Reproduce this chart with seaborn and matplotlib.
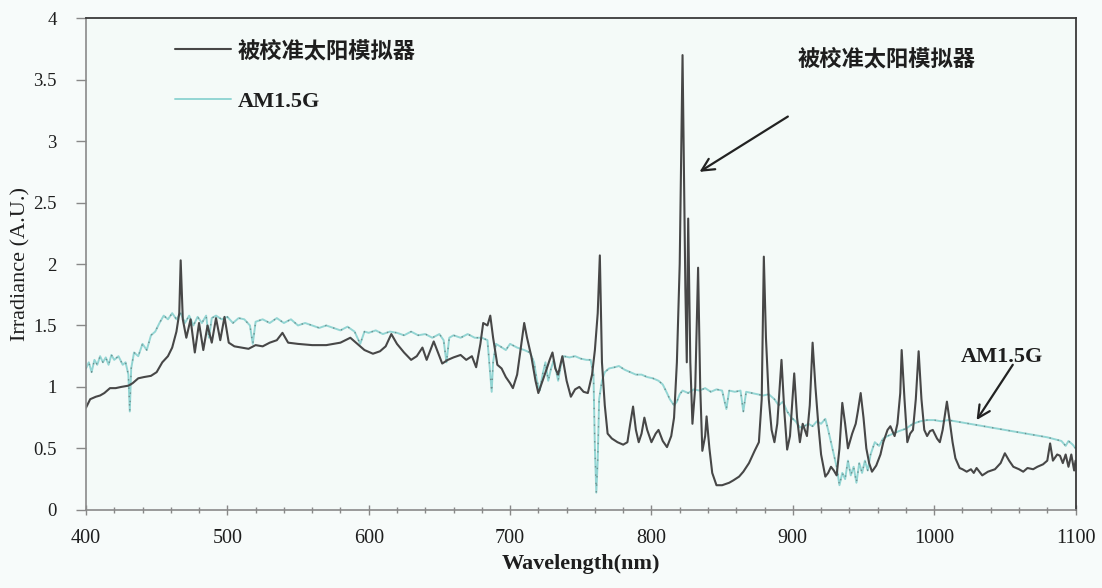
import numpy as np
import pandas as pd
import seaborn as sns
import matplotlib
matplotlib.use('Agg')
import matplotlib.pyplot as plt
from matplotlib.ticker import MultipleLocator

#%% Data
sim_wl = [400, 403, 407, 410, 413, 417, 421, 425, 430, 433, 437, 441, 446, 450, 454, 458, 461, 464, 466, 467,
          468.5, 471, 474, 477, 480, 483, 486, 489, 492, 495, 498, 501, 505, 510, 515, 520, 525, 530, 535, 539,
          543, 550, 560, 570, 580, 587, 592, 597, 603, 608, 612, 616, 620, 625, 630, 634, 638, 641, 646, 649,
          652, 656, 660, 665, 669, 673, 676, 679, 681, 684, 686, 688, 691, 694, 697, 700, 702, 705, 708, 710,
          712, 715, 718, 720, 723, 726, 728, 730, 732, 734, 737, 740, 743, 746, 749, 752, 755, 758, 760, 762,
          763.5, 765, 767, 769, 772, 776, 780, 783, 785, 787, 789, 791, 793, 795, 797, 800, 803, 805, 808, 811,
          814, 816, 818, 820, 822, 824, 825, 826, 827.5, 829, 831, 833, 834.5, 836, 838, 839, 841, 843, 846, 850,
          855, 858, 862, 865, 869, 873, 876, 878, 879.5, 881, 883, 885, 887, 889, 892, 894, 896, 898, 901, 903,
          905, 907, 910, 912, 914, 916, 918, 920, 923, 925, 927, 929, 931, 933, 935, 937, 939, 942, 944.5, 946,
          948, 950, 952, 954, 956, 959, 962, 964, 967, 969, 972, 974, 976, 977, 979, 981, 983, 985, 987, 989,
          991, 993, 995, 997, 999, 1002, 1004, 1006, 1009, 1011, 1013, 1015, 1018, 1020, 1023, 1026, 1028, 1030, 1034, 1038,
          1043, 1047, 1050, 1053, 1056, 1060, 1063, 1066, 1070, 1073, 1077, 1080, 1082, 1084, 1087, 1089, 1091, 1093, 1095, 1097,
          1099, 1100]
sim_val = [0.83, 0.90, 0.92, 0.93, 0.95, 0.99, 0.99, 1.00, 1.01, 1.03, 1.07, 1.08, 1.09, 1.12, 1.20, 1.25, 1.32, 1.45, 1.60, 2.03,
           1.55, 1.40, 1.55, 1.28, 1.52, 1.30, 1.50, 1.36, 1.56, 1.38, 1.57, 1.36, 1.33, 1.32, 1.31, 1.34, 1.33, 1.36, 1.38, 1.44,
           1.36, 1.35, 1.34, 1.34, 1.36, 1.40, 1.35, 1.30, 1.27, 1.29, 1.33, 1.43, 1.35, 1.28, 1.22, 1.25, 1.32, 1.22, 1.37, 1.28,
           1.19, 1.22, 1.24, 1.26, 1.22, 1.25, 1.16, 1.35, 1.52, 1.50, 1.58, 1.40, 1.18, 1.15, 1.08, 1.03, 0.99, 1.10, 1.35, 1.52,
           1.40, 1.25, 1.05, 0.95, 1.05, 1.15, 1.22, 1.28, 1.15, 1.10, 1.25, 1.05, 0.92, 0.98, 1.00, 0.96, 0.95, 1.10, 1.30, 1.60,
           2.07, 1.20, 0.85, 0.62, 0.58, 0.55, 0.53, 0.55, 0.70, 0.84, 0.65, 0.55, 0.62, 0.75, 0.65, 0.55, 0.62, 0.65, 0.56, 0.51,
           0.60, 0.75, 1.20, 2.00, 3.70, 1.80, 1.20, 2.37, 1.20, 0.70, 1.00, 1.97, 1.00, 0.48, 0.60, 0.76, 0.50, 0.30, 0.20, 0.20,
           0.22, 0.24, 0.27, 0.31, 0.38, 0.48, 0.55, 0.90, 2.06, 1.40, 0.90, 0.65, 0.55, 0.70, 1.22, 0.80, 0.49, 0.60, 1.11, 0.75,
           0.55, 0.70, 0.60, 0.85, 1.36, 1.00, 0.70, 0.45, 0.27, 0.30, 0.35, 0.32, 0.28, 0.50, 0.87, 0.70, 0.50, 0.62, 0.70, 0.80,
           0.95, 0.75, 0.50, 0.38, 0.31, 0.36, 0.45, 0.55, 0.65, 0.68, 0.60, 0.70, 0.95, 1.30, 0.90, 0.55, 0.62, 0.65, 0.90, 1.29,
           0.90, 0.65, 0.60, 0.64, 0.65, 0.58, 0.55, 0.65, 0.88, 0.72, 0.55, 0.42, 0.34, 0.33, 0.31, 0.33, 0.30, 0.34, 0.28, 0.31,
           0.33, 0.38, 0.46, 0.40, 0.35, 0.33, 0.31, 0.34, 0.33, 0.35, 0.37, 0.40, 0.54, 0.40, 0.45, 0.44, 0.38, 0.45, 0.35, 0.45,
           0.32, 0.40]

am_wl = [400, 402, 404, 406, 408, 410, 412, 414, 416, 418, 420, 423, 426, 428, 430, 431, 432, 434, 437, 440,
         443, 446, 449, 452, 455, 458, 461, 464, 467, 470, 473, 476, 479, 482, 485, 487, 489, 492, 496, 500,
         504, 508, 512, 516, 518, 520, 525, 530, 535, 540, 545, 550, 555, 560, 565, 570, 575, 580, 585, 590,
         594, 597, 600, 605, 610, 615, 620, 625, 630, 635, 640, 645, 650, 653, 655, 657, 660, 665, 670, 675,
         680, 684, 686, 687, 688, 690, 693, 697, 700, 705, 710, 714, 717, 719, 721, 723, 725, 727, 729, 731,
         734, 736, 738, 742, 746, 750, 754, 757, 759, 760, 761, 762, 763, 765, 767, 770, 774, 777, 781, 785,
         789, 793, 797, 801, 805, 808, 811, 813, 816, 818, 820, 822, 826, 830, 834, 838, 842, 846, 850, 853,
         855, 859, 863, 865, 867, 871, 875, 879, 883, 887, 890, 893, 896, 899, 902, 905, 908, 911, 914, 917,
         920, 923, 925, 927, 929, 931, 933, 935, 937, 939, 941, 943, 945, 947, 949, 951, 953, 955, 958, 961,
         964, 967, 971, 975, 980, 985, 990, 995, 1000, 1005, 1010, 1020, 1030, 1040, 1050, 1060, 1070, 1080, 1090, 1093,
         1095, 1098, 1100]
am_val = [1.15, 1.20, 1.12, 1.22, 1.18, 1.25, 1.20, 1.24, 1.18, 1.26, 1.22, 1.25, 1.18, 1.20, 1.10, 0.80, 1.15, 1.28, 1.25, 1.35,
          1.30, 1.42, 1.45, 1.52, 1.58, 1.55, 1.60, 1.55, 1.60, 1.52, 1.58, 1.50, 1.57, 1.52, 1.58, 1.40, 1.56, 1.58, 1.55, 1.57,
          1.52, 1.56, 1.55, 1.50, 1.35, 1.53, 1.55, 1.52, 1.56, 1.52, 1.55, 1.50, 1.52, 1.50, 1.48, 1.50, 1.48, 1.46, 1.49, 1.45,
          1.35, 1.45, 1.44, 1.46, 1.43, 1.45, 1.44, 1.42, 1.45, 1.42, 1.43, 1.40, 1.43, 1.38, 1.20, 1.40, 1.42, 1.40, 1.43, 1.40,
          1.40, 1.38, 1.10, 0.96, 1.20, 1.35, 1.33, 1.30, 1.35, 1.32, 1.30, 1.28, 1.20, 1.05, 0.97, 1.10, 1.20, 1.05, 1.15, 1.22,
          1.05, 1.18, 1.25, 1.24, 1.25, 1.23, 1.22, 1.22, 1.10, 0.50, 0.14, 0.40, 0.90, 1.05, 1.12, 1.15, 1.16, 1.17, 1.14, 1.12,
          1.10, 1.10, 1.08, 1.07, 1.05, 1.02, 0.95, 0.90, 0.85, 0.88, 0.94, 0.97, 0.95, 0.98, 0.97, 0.99, 0.96, 0.98, 0.97, 0.82,
          0.97, 0.96, 0.97, 0.80, 0.96, 0.95, 0.94, 0.93, 0.94, 0.90, 0.85, 0.88, 0.80, 0.75, 0.72, 0.67, 0.68, 0.70, 0.68, 0.72,
          0.70, 0.74, 0.65, 0.55, 0.45, 0.35, 0.20, 0.30, 0.25, 0.40, 0.28, 0.35, 0.22, 0.38, 0.30, 0.40, 0.32, 0.45, 0.55, 0.52,
          0.58, 0.60, 0.62, 0.64, 0.66, 0.70, 0.72, 0.73, 0.73, 0.72, 0.73, 0.71, 0.69, 0.67, 0.65, 0.63, 0.61, 0.59, 0.56, 0.52,
          0.56, 0.53, 0.50]

sim_label = '被校准太阳模拟器'
am_label = 'AM1.5G'

#%% Plot
sns.set_theme(style='white')
serif = ['Liberation Serif', 'DejaVu Serif']
cjk = ['Noto Sans CJK SC', 'DejaVu Sans']
plt.rcParams['font.family'] = serif

fig = plt.figure(figsize=(11.02, 5.88), dpi=100, facecolor='#f7fbfa')
ax = fig.add_axes([0.078, 0.133, 0.898, 0.836])
ax.set_facecolor('#f4faf8')

df_sim = pd.DataFrame({'wl': sim_wl, 'val': sim_val})
df_am = pd.DataFrame({'wl': am_wl, 'val': am_val})

sns.lineplot(data=df_am, x='wl', y='val', ax=ax, color='#93d5d3', lw=1.4, sort=False, estimator=None, label=am_label)
sns.lineplot(data=df_am, x='wl', y='val', ax=ax, color='#3a3a3a', lw=1.0, ls=(0, (1, 5)), alpha=0.45,
             sort=False, estimator=None, legend=False)
sns.lineplot(data=df_sim, x='wl', y='val', ax=ax, color='#474747', lw=1.5, sort=False, estimator=None, label=sim_label)

ax.set_xlim(400, 1100)
ax.set_ylim(0, 4)
ax.xaxis.set_major_locator(MultipleLocator(100))
ax.xaxis.set_minor_locator(MultipleLocator(20))
ax.set_yticks(np.arange(0, 4.01, 0.5))
ax.set_yticklabels(['0', '0.5', '1', '1.5', '2', '2.5', '3', '3.5', '4'])
ax.tick_params(axis='x', which='both', direction='inout', length=7, width=1, color='#888888',
               labelsize=14.5, labelcolor='#1e1e1e', pad=10, bottom=True)
ax.tick_params(axis='x', which='minor', length=5)
ax.tick_params(axis='y', direction='out', length=7, width=1, color='#888888',
               labelsize=13.5, labelcolor='#1e1e1e', pad=14, left=True)
for side in ['left', 'bottom']:
    ax.spines[side].set_color('#8a8a8a')
    ax.spines[side].set_linewidth(1.2)
for side in ['top', 'right']:
    ax.spines[side].set_color('#3a3a3a')
    ax.spines[side].set_linewidth(1.3)

ax.set_xlabel('Wavelength(nm)', fontsize=16, fontweight='bold', labelpad=5, color='#1e1e1e')
ax.set_ylabel('Irradiance (A.U.)', fontsize=16, labelpad=2, color='#1e1e1e')

# legend: simulator first, then AM1.5G
handles, labels = ax.get_legend_handles_labels()
order = [labels.index(sim_label), labels.index(am_label)]
leg = ax.legend([handles[i] for i in order], [labels[i] for i in order], loc='upper left',
                bbox_to_anchor=(0.07, 0.998), frameon=False, handlelength=2.5, handletextpad=0.3,
                labelspacing=1.3, prop={'family': cjk, 'size': 16, 'weight': 'bold'})
leg.get_texts()[1].set_fontfamily(serif)
for t in leg.get_texts():
    t.set_color('#1e1e1e')

# callouts
arrow = dict(arrowstyle='->', color='#222222', lw=1.6, mutation_scale=22, shrinkA=0, shrinkB=0)
ax.annotate('', xy=(834, 2.75), xytext=(896.5, 3.2), arrowprops=arrow)
ax.text(903.5, 3.67, sim_label, fontsize=16, fontweight='bold', family=cjk, ha='left', va='center', color='#1e1e1e')
ax.annotate('', xy=(1030, 0.73), xytext=(1055.6, 1.18), arrowprops=arrow)
ax.text(1048, 1.245, am_label, fontsize=16, fontweight='bold', family=serif, ha='center', va='center', color='#1e1e1e')

fig.savefig('out.png', dpi=100, facecolor=fig.get_facecolor())
